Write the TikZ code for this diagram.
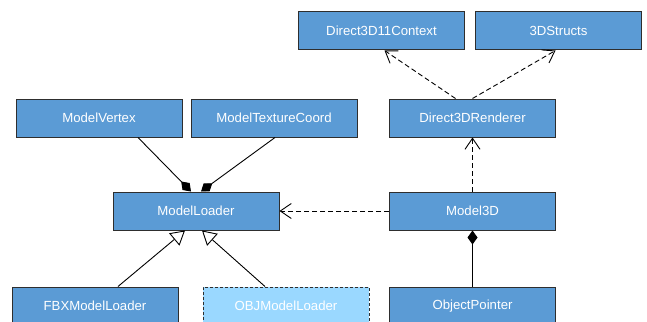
\documentclass[tikz,border=0pt]{standalone}
\usepackage{fontspec}
\setmainfont{Liberation Sans}
\usetikzlibrary{arrows.meta}
\definecolor{classblue}{HTML}{5B9BD5}
\definecolor{lightclass}{HTML}{9AD8FF}
\definecolor{edgegray}{HTML}{2E2E2E}
\tikzset{
  classbox/.style={draw=edgegray, line width=1pt, fill=classblue, text=white,
    minimum width=166pt, minimum height=38pt, inner sep=0pt,
    font=\fontsize{13.2}{15}\selectfont},
  ghostbox/.style={classbox, fill=lightclass, dashed, dash pattern=on 3pt off 2pt},
  inherit/.style={draw=black, line width=0.9pt, -{Triangle[open, length=14pt, width=16pt, fill=white]}},
  depends/.style={draw=black, line width=0.9pt, dash pattern=on 5pt off 3pt,
    -{Straight Barb[length=11pt, width=15pt, line width=0.9pt]}},
  composed/.style={draw=black, line width=0.9pt, -{Diamond[length=14pt, width=10pt, fill=black]}}
}
\begin{document}
\begin{tikzpicture}[x=1pt, y=-1pt]
  \useasboundingbox (0,0) rectangle (647,321);
  \clip (0,0) rectangle (647,321);

  % class boxes
  \node[classbox] (ctx)      at (381.5, 31)  {Direct3D11Context};
  \node[classbox] (structs)  at (558.5, 31)  {3DStructs};
  \node[classbox] (vertex)   at (99, 118)    {ModelVertex};
  \node[classbox] (texcoord) at (274, 118)   {ModelTextureCoord};
  \node[classbox] (renderer) at (472.5, 118) {Direct3DRenderer};
  \node[classbox] (loader)   at (196, 211)   {ModelLoader};
  \node[classbox] (model)    at (472.5, 211) {Model3D};
  \node[classbox] (fbx)      at (95, 306)    {FBXModelLoader};
  \node[ghostbox] (obj)      at (286, 306)   {OBJModelLoader};
  \node[classbox] (pointer)  at (472.5, 306) {ObjectPointer};

  % composition into the loader
  \draw[composed] ([xshift=39pt]vertex.south) -- ([xshift=-5pt]loader.north);
  \draw[composed] ([xshift=1pt]texcoord.south) -- ([xshift=5pt]loader.north);

  % concrete loaders
  \draw[inherit] ([xshift=23pt]fbx.north) -- ([xshift=-11pt]loader.south);
  \draw[inherit] ([xshift=-21pt]obj.north) -- ([xshift=6pt]loader.south);

  % renderer dependencies
  \draw[depends] ([xshift=-17pt]renderer.north) -- ([xshift=3pt]ctx.south);
  \draw[depends] (renderer.north) -- ([xshift=-3pt]structs.south);

  % model relations
  \draw[depends] (model.north) -- (renderer.south);
  \draw[depends] (model.west) -- (loader.east);
  \draw[composed] (pointer.north) -- (model.south);
\end{tikzpicture}
\end{document}
